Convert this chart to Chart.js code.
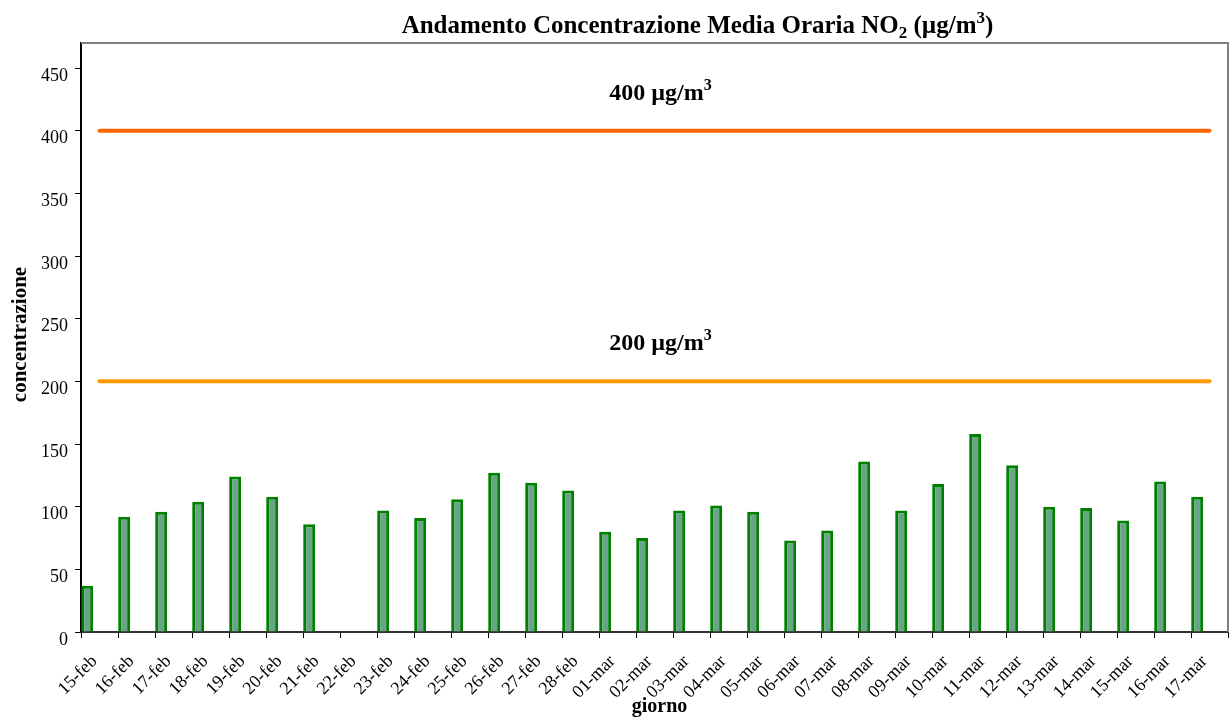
<!DOCTYPE html>
<html lang="it">
<head>
    <meta charset="UTF-8">
    <title>Andamento Concentrazione Media Oraria NO2</title>
    <script src="https://cdn.jsdelivr.net/npm/chart.js"></script>
    <style>
        body { margin: 0; background: #fff; }
        #wrap { width: 1230px; height: 720px; }
    </style>
</head>
<body>
    <div id="wrap"><canvas id="no2Chart" width="1230" height="720"></canvas></div>

    <script>
        // giorni e valori
        const days = ['15-feb', '16-feb', '17-feb', '18-feb', '19-feb', '20-feb', '21-feb', '22-feb',
            '23-feb', '24-feb', '25-feb', '26-feb', '27-feb', '28-feb', '01-mar', '02-mar', '03-mar',
            '04-mar', '05-mar', '06-mar', '07-mar', '08-mar', '09-mar', '10-mar', '11-mar', '12-mar',
            '13-mar', '14-mar', '15-mar', '16-mar', '17-mar'];
        const concentrations = [37, 92, 96, 104, 124, 108, 86, 0, 97, 91, 106, 127, 119, 113, 80, 75, 97,
            101, 96, 73, 81, 136, 97, 118, 158, 133, 100, 99, 89, 120, 108];
        const limits = [400, 200];
        const limitColors = ['#FF6600', '#FF9900'];
        const yTicks = [0, 50, 100, 150, 200, 250, 300, 350, 400, 450];

        const serif = '"Liberation Serif", "Times New Roman", serif';
        Chart.defaults.font.family = serif;
        Chart.defaults.color = '#000';

        // testo con pedici / apici
        function drawRich(ctx, parts, cx, y, size) {
            const big = 'bold ' + size + 'px ' + serif;
            const small = 'bold ' + Math.round(size * 0.66) + 'px ' + serif;
            let w = 0;
            parts.forEach(p => { ctx.font = p.s ? small : big; w += ctx.measureText(p.t).width; });
            let x = cx - w / 2;
            ctx.textAlign = 'left';
            ctx.textBaseline = 'alphabetic';
            parts.forEach(p => {
                ctx.font = p.s ? small : big;
                const dy = p.s === 'sub' ? size * 0.2 : p.s === 'sup' ? -size * 0.42 : 0;
                ctx.fillText(p.t, x, y + dy);
                x += ctx.measureText(p.t).width;
            });
        }

        const textPlugin = {
            id: 'texts',
            afterDraw(chart) {
                const { ctx, chartArea: a, scales } = chart;
                const mid = (a.left + a.right) / 2;
                ctx.save();
                // cornice superiore e destra
                ctx.strokeStyle = '#808080';
                ctx.lineWidth = 2;
                ctx.beginPath();
                ctx.moveTo(a.left, a.top);
                ctx.lineTo(a.right, a.top);
                ctx.lineTo(a.right, a.bottom);
                ctx.stroke();

                ctx.fillStyle = '#000';
                drawRich(ctx, [
                    { t: 'Andamento Concentrazione Media Oraria NO' }, { t: '2', s: 'sub' },
                    { t: ' (µg/m' }, { t: '3', s: 'sup' }, { t: ')' }
                ], mid + 43, 33, 25);

                limits.forEach(v => {
                    drawRich(ctx, [{ t: v + ' µg/m' }, { t: '3', s: 'sup' }],
                        mid + 6, scales.y.getPixelForValue(v) - 31, 24);
                });

                ctx.font = 'bold 20px ' + serif;
                ctx.textAlign = 'center';
                ctx.textBaseline = 'alphabetic';
                ctx.fillText('giorno', mid + 5, 712);

                ctx.font = 'bold 21px ' + serif;
                ctx.translate(26, (a.top + a.bottom) / 2 - 3);
                ctx.rotate(-Math.PI / 2);
                ctx.fillText('concentrazione', 0, 0);
                ctx.restore();
            }
        };

        const datasets = [
            {
                type: 'bar',
                label: 'NO2',
                data: concentrations,
                backgroundColor: '#68a585',
                borderColor: '#008000',
                borderWidth: 3,
                borderSkipped: 'bottom',
                order: 2
            },
            // slot vuoti: spostano la barra a sinistra nella categoria
            { type: 'bar', label: 'vuoto1', data: days.map(() => null), order: 3 },
            { type: 'bar', label: 'vuoto2', data: days.map(() => null), order: 3 }
        ];
        limits.forEach((v, i) => {
            datasets.push({
                type: 'line',
                label: v + ' µg/m3',
                data: days.map(() => v),
                borderColor: limitColors[i],
                borderWidth: 4,
                borderCapStyle: 'round',
                pointRadius: 0,
                order: 1
            });
        });

        new Chart(document.getElementById('no2Chart').getContext('2d'), {
            data: { labels: days, datasets: datasets },
            options: {
                responsive: false,
                animation: false,
                events: [],
                layout: { padding: { top: 43, right: 2, left: 0, bottom: 0 } },
                plugins: { legend: { display: false }, tooltip: { enabled: false } },
                datasets: { bar: { categoryPercentage: 1.0, barPercentage: 0.97 } },
                scales: {
                    x: {
                        offset: true,
                        grid: { offset: true, drawOnChartArea: false, tickLength: 6, color: '#000' },
                        border: { color: '#333', width: 2 },
                        ticks: {
                            autoSkip: false, minRotation: 45, maxRotation: 45,
                            padding: 13, labelOffset: -5, font: { size: 18 }, color: '#000'
                        },
                        afterFit(s) {
                            s.height = 88;
                            s.paddingLeft = 0;
                            s.paddingRight = 0;
                        }
                    },
                    y: {
                        min: 0,
                        max: 470,
                        grid: { drawOnChartArea: false, tickLength: 6, color: '#000' },
                        border: { color: '#000', width: 2 },
                        ticks: { stepSize: 50, padding: 7, labelOffset: 8, font: { size: 18 }, color: '#000' },
                        afterBuildTicks(s) { s.ticks = yTicks.map(v => ({ value: v })); },
                        afterFit(s) { s.width = 81; }
                    }
                }
            },
            plugins: [textPlugin]
        });
    </script>
</body>
</html>
